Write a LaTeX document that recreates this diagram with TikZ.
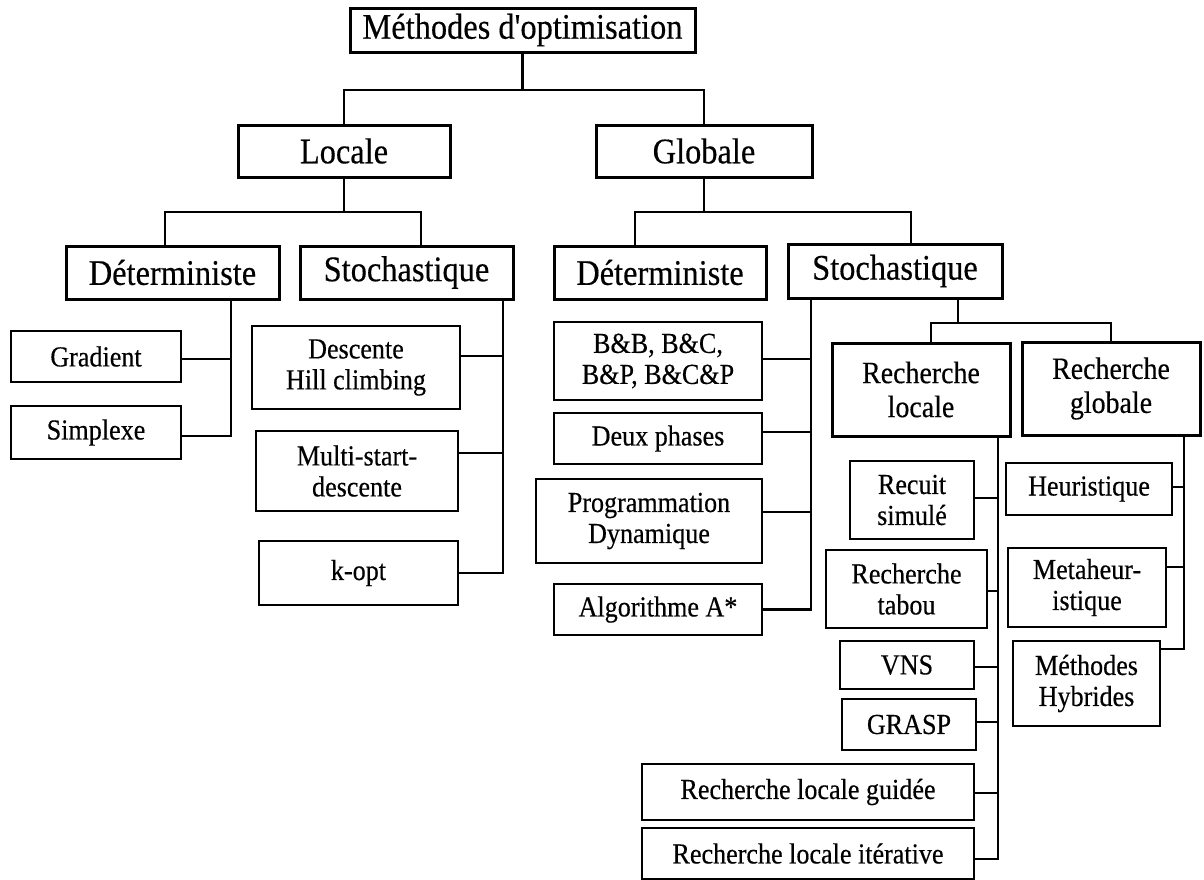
\documentclass[tikz,border=0pt]{standalone}
\usepackage{fontspec}
\setmainfont{Liberation Serif}[FakeStretch=0.9, Ligatures=TeXOff, FakeBold=0.4]
\begin{document}
\begin{tikzpicture}[x=1pt,y=-1pt,
  big/.style={draw, line width=3pt, inner sep=0pt, outer sep=0pt, align=center, font=\fontsize{36}{40}\selectfont},
  mid/.style={draw, line width=3pt, inner sep=0pt, outer sep=0pt, align=center, font=\fontsize{31}{34}\selectfont},
  leaf/.style={draw, line width=2pt, inner sep=0pt, outer sep=0pt, align=center, font=\fontsize{29}{31}\selectfont},
  conn/.style={line width=2.2pt}]
\useasboundingbox (0,0) rectangle (1204,879);
\newcommand\hbr[3]{\coordinate (tmp) at ([yshift=#3]#1.east); \draw[conn] (tmp) -- (tmp -| #2);}
% level 1-3
\node[big, minimum width=345pt, minimum height=44pt] (top) at (522.5,30) {Méthodes d'optimisation};
\node[big, minimum width=212pt, minimum height=52pt] (loc) at (344,151) {Locale};
\node[big, minimum width=216pt, minimum height=52pt] (glo) at (704,151) {Globale};
\node[big, minimum width=213pt, minimum height=53pt] (detl) at (172.5,272.5) {Déterministe};
\node[big, minimum width=213pt, minimum height=53pt] (stl) at (406.5,272.5) {Stochastique};
\node[big, minimum width=212pt, minimum height=53pt] (detg) at (660,272.5) {Déterministe};
\node[big, minimum width=214pt, minimum height=54pt] (stg) at (895,271) {Stochastique};
% local leaves
\node[leaf, minimum width=170pt, minimum height=51pt] (grad) at (96,356.5) {Gradient};
\node[leaf, minimum width=170pt, minimum height=53pt] (simp) at (96,432.5) {Simplexe};
\node[leaf, minimum width=208pt, minimum height=83pt] (desc) at (356,367.5) {Descente\\Hill climbing};
\node[leaf, minimum width=202pt, minimum height=80pt] (multi) at (357,471) {Multi-start-\\descente};
\node[leaf, minimum width=199pt, minimum height=64pt] (kopt) at (358.5,573) {k-opt};
% global deterministic leaves
\node[leaf, minimum width=208pt, minimum height=78pt] (bb) at (658,361) {B\&B, B\&C,\\B\&P, B\&C\&P};
\node[leaf, minimum width=208pt, minimum height=51pt] (deux) at (658,438.5) {Deux phases};
\node[leaf, minimum width=226pt, minimum height=84pt] (prog) at (649,521) {Programmation\\Dynamique};
\node[leaf, minimum width=208pt, minimum height=51pt] (algo) at (658,609.5) {Algorithme A*};
% level 4
\node[mid, minimum width=178pt, minimum height=93pt] (rl) at (921,389.5) {Recherche\\locale};
\node[mid, minimum width=178pt, minimum height=93pt] (rg) at (1111,388.5) {Recherche\\globale};
% local search leaves
\node[leaf, minimum width=124pt, minimum height=78pt] (recuit) at (912,500) {Recuit\\simulé};
\node[leaf, minimum width=161pt, minimum height=78pt] (tabou) at (906.5,589) {Recherche\\tabou};
\node[leaf, minimum width=134pt, minimum height=48pt] (vns) at (907,665) {VNS};
\node[leaf, minimum width=134pt, minimum height=51pt] (grasp) at (909,724.5) {GRASP};
\node[leaf, minimum width=332pt, minimum height=56pt] (guid) at (808,792) {Recherche locale guidée};
\node[leaf, minimum width=332pt, minimum height=51pt] (iter) at (808,853.5) {Recherche locale itérative};
% global search leaves
\node[leaf, minimum width=166pt, minimum height=52pt] (heur) at (1089,489) {Heuristique};
\node[leaf, minimum width=158pt, minimum height=79pt] (meta) at (1087,587.5) {Metaheur-\\istique};
\node[leaf, minimum width=147pt, minimum height=85pt] (hyb) at (1086.5,683.5) {Méthodes\\Hybrides};
% tree connectors
\draw[conn] (top.south) -- ++(0,38) coordinate (j0);
\draw[conn] (j0) -| (loc.north);
\draw[conn] (j0) -| (glo.north);
\draw[conn] (loc.south) -- ++(0,35) coordinate (j1);
\draw[conn] (j1) -| ([xshift=-7.5pt]detl.north);
\draw[conn] (j1) -| ([xshift=14.5pt]stl.north);
\draw[conn] (glo.south) -- ++(0,35) coordinate (j2);
\draw[conn] (j2) -| ([xshift=-25pt]detg.north);
\draw[conn] (j2) -| ([xshift=16pt]stg.north);
\draw[conn] ([xshift=63pt]stg.south) -- ++(0,25) coordinate (j3);
\draw[conn] (j3) -| ([xshift=10pt]rl.north);
\draw[conn] (j3) -| (rg.north);
% Deterministe locale
\coordinate (dlv) at ([xshift=58.5pt]detl.south);
\coordinate (c2) at ([yshift=-3.5pt]simp.east);
\draw[conn] (dlv) -- (dlv |- c2) -- (c2);
\hbr{grad}{dlv}{-2.5pt}
% Stochastique locale
\coordinate (slv) at ([xshift=96.5pt]stl.south);
\coordinate (c3) at (kopt.east);
\draw[conn] (slv) -- (slv |- c3) -- (c3);
\hbr{desc}{slv}{11.5pt}
\hbr{multi}{slv}{18pt}
% Deterministe globale
\coordinate (dgv) at ([xshift=-84pt]stg.south);
\coordinate (c4) at (algo.east);
\draw[conn] (dgv) -- (dgv |- c4) -- (c4);
\hbr{bb}{dgv}{2pt}
\hbr{deux}{dgv}{6.5pt}
\hbr{prog}{dgv}{9pt}
% Recherche locale
\coordinate (rlv) at ([xshift=77pt]rl.south);
\coordinate (c5) at ([yshift=-5.5pt]iter.east);
\draw[conn] (rlv) -- (rlv |- c5) -- (c5);
\hbr{recuit}{rlv}{2pt}
\hbr{tabou}{rlv}{-2pt}
\hbr{vns}{rlv}{-2pt}
\hbr{grasp}{rlv}{2.5pt}
\hbr{guid}{rlv}{-1pt}
% Recherche globale
\coordinate (rgv) at ([xshift=73pt]rg.south);
\coordinate (c6) at ([yshift=34.5pt]hyb.east);
\draw[conn] (rgv) -- (rgv |- c6) -- (c6);
\hbr{heur}{rgv}{2pt}
\hbr{meta}{rgv}{20.5pt}
\end{tikzpicture}
\end{document}
